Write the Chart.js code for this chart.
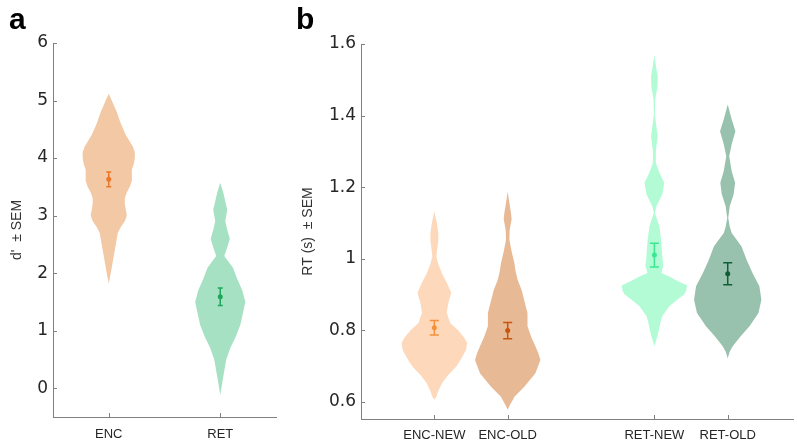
<!DOCTYPE html>
<html>
<head>
<meta charset="utf-8">
<script src="https://cdn.jsdelivr.net/npm/chart.js@4.4.1/dist/chart.umd.min.js"></script>
<style>
  html, body { margin: 0; padding: 0; background: #fff; }
  #wrap { position: relative; width: 797px; height: 446px; overflow: hidden; }
  canvas { position: absolute; top: 0; }
  .tag { position: absolute; font: bold 30px "Liberation Sans", Arial, sans-serif; color: #000; }
</style>
</head>
<body>
<div id="wrap">
  <canvas id="chartA" width="290" height="446" style="left:0"></canvas>
  <canvas id="chartB" width="507" height="446" style="left:290px"></canvas>
  <div class="tag" style="left:9px; top:2px">a</div>
  <div class="tag" style="left:296px; top:2px">b</div>
</div>
<script>
// ---- panel a : d' ----
const catsA = ["ENC", "RET"]
const meansA = [3.63, 1.59]
const semA = [0.13, 0.15]

// violin outline: value along y, half width in x-axis units
const encVals = [1.82, 2.0, 2.2, 2.4, 2.5, 2.6, 2.7, 2.8, 2.9, 3.0, 3.1, 3.2, 3.3, 3.4, 3.5, 3.6, 3.7, 3.8, 3.9, 4.0, 4.1, 4.2, 4.4, 4.6, 4.8, 5.0, 5.12]
const encWidth = [0, 0.018, 0.036, 0.054, 0.063, 0.072, 0.081, 0.108, 0.144, 0.162, 0.153, 0.144, 0.144, 0.162, 0.189, 0.207, 0.207, 0.207, 0.225, 0.234, 0.234, 0.216, 0.153, 0.108, 0.072, 0.027, 0]
const retVals = [-0.12, 0.1, 0.3, 0.5, 0.7, 0.9, 1.1, 1.3, 1.5, 1.7, 1.9, 2.1, 2.3, 2.45, 2.6, 2.75, 2.9, 3.1, 3.25, 3.4, 3.57]
const retWidth = [0, 0.018, 0.036, 0.054, 0.09, 0.14, 0.18, 0.203, 0.225, 0.198, 0.153, 0.113, 0.036, 0.063, 0.086, 0.063, 0.045, 0.063, 0.045, 0.027, 0]
const ticksA = [0, 1, 2, 3, 4, 5, 6]

// ---- panel b : RT ----
const catsB = ["ENC-NEW", "ENC-OLD", "RET-NEW", "RET-OLD"]
const posB = [1, 2, 4, 5]
const meansB = [0.807, 0.799, 1.01, 0.958]
const semB = [0.02, 0.023, 0.033, 0.031]

const encNewVals = [0.606, 0.614, 0.63, 0.653, 0.675, 0.698, 0.72, 0.745, 0.765, 0.78, 0.8, 0.82, 0.849, 0.875, 0.905, 0.93, 0.96, 0.985, 1.006, 1.03, 1.05, 1.072, 1.1, 1.132]
const encNewWidth = [0, 0.027, 0.054, 0.108, 0.189, 0.297, 0.365, 0.432, 0.446, 0.405, 0.324, 0.216, 0.169, 0.189, 0.23, 0.176, 0.101, 0.054, 0.027, 0.041, 0.054, 0.054, 0.034, 0]
const encOldVals = [0.578, 0.59, 0.615, 0.643, 0.68, 0.717, 0.735, 0.755, 0.78, 0.811, 0.848, 0.87, 0.913, 0.941, 0.965, 0.988, 1.02, 1.053, 1.08, 1.11, 1.128, 1.16, 1.188]
const encOldWidth = [0, 0.027, 0.095, 0.23, 0.378, 0.446, 0.419, 0.378, 0.324, 0.27, 0.27, 0.243, 0.189, 0.135, 0.108, 0.091, 0.054, 0.023, 0.027, 0.054, 0.045, 0.02, 0]
const retNewVals = [0.755, 0.783, 0.8, 0.82, 0.84, 0.867, 0.885, 0.9, 0.91, 0.925, 0.94, 0.95, 0.96, 0.98, 1.006, 1.03, 1.053, 1.09, 1.128, 1.146, 1.18, 1.212, 1.24, 1.268, 1.3, 1.342, 1.37, 1.403, 1.445, 1.48, 1.51, 1.54, 1.571]
const retNewWidth = [0, 0.041, 0.061, 0.081, 0.108, 0.203, 0.311, 0.405, 0.432, 0.446, 0.297, 0.203, 0.095, 0.122, 0.108, 0.101, 0.091, 0.068, 0.007, 0.027, 0.108, 0.135, 0.068, 0.02, 0.02, 0.045, 0.027, 0.007, 0.011, 0.041, 0.045, 0.02, 0]
const retOldVals = [0.722, 0.74, 0.755, 0.783, 0.811, 0.848, 0.885, 0.923, 0.96, 0.997, 1.034, 1.053, 1.072, 1.09, 1.114, 1.146, 1.18, 1.212, 1.245, 1.286, 1.32, 1.356, 1.39, 1.431]
const retOldWidth = [0, 0.027, 0.068, 0.176, 0.297, 0.419, 0.459, 0.432, 0.338, 0.257, 0.189, 0.122, 0.054, 0.027, 0.007, 0.027, 0.081, 0.101, 0.054, 0.02, 0.054, 0.105, 0.054, 0]
const ticksB = [0.6, 0.8, 1.0, 1.2, 1.4, 1.6]

const AXIS = "#808080"
const TXT = "#262626"

// draws violins under the points, error bars over them, and inward tick marks
function violinPlugin(violins, errs, capHalf) {
  return {
    id: "violins",
    beforeDatasetsDraw(chart) {
      const { ctx, scales: { x, y } } = chart
      violins.forEach(v => {
        ctx.beginPath()
        v.vals.forEach((val, i) => {
          const px = x.getPixelForValue(v.pos + v.w[i]), py = y.getPixelForValue(val)
          i ? ctx.lineTo(px, py) : ctx.moveTo(px, py)
        })
        for (let i = v.vals.length - 1; i >= 0; i--) {
          ctx.lineTo(x.getPixelForValue(v.pos - v.w[i]), y.getPixelForValue(v.vals[i]))
        }
        ctx.closePath()
        ctx.fillStyle = v.fill
        ctx.fill()
      })
    },
    afterDatasetsDraw(chart) {
      const { ctx, scales: { x, y } } = chart
      ctx.save()
      ctx.lineWidth = 1.5
      errs.forEach(e => {
        const cx = x.getPixelForValue(e.pos)
        const top = y.getPixelForValue(e.mean + e.sem), bot = y.getPixelForValue(e.mean - e.sem)
        ctx.strokeStyle = e.color
        ctx.beginPath()
        ctx.moveTo(cx, top); ctx.lineTo(cx, bot)
        ctx.moveTo(cx - capHalf, top); ctx.lineTo(cx + capHalf, top)
        ctx.moveTo(cx - capHalf, bot); ctx.lineTo(cx + capHalf, bot)
        ctx.stroke()
      })
      ctx.restore()
    },
    afterDraw(chart) {
      const { ctx, chartArea: a, scales: { x, y } } = chart
      ctx.save()
      ctx.strokeStyle = AXIS
      ctx.lineWidth = 1
      ctx.beginPath()
      y.ticks.forEach(t => {
        const py = Math.round(y.getPixelForValue(t.value)) + 0.5
        ctx.moveTo(a.left, py); ctx.lineTo(a.left + 4, py)
      })
      x.ticks.forEach(t => {
        const px = Math.round(x.getPixelForValue(t.value)) + 0.5
        ctx.moveTo(px, a.bottom); ctx.lineTo(px, a.bottom - 4)
      })
      ctx.stroke()
      ctx.restore()
    }
  }
}

function makeChart(id, o) {
  return new Chart(document.getElementById(id), {
    type: "scatter",
    data: {
      datasets: [{
        data: o.pos.map((p, i) => ({ x: p, y: o.means[i] })),
        pointBackgroundColor: o.errColors,
        pointBorderWidth: 0,
        pointRadius: 2.5
      }]
    },
    options: {
      responsive: false,
      animation: false,
      events: [],
      layout: { padding: o.padding },
      plugins: { legend: { display: false }, tooltip: { enabled: false } },
      scales: {
        x: {
          type: "linear", min: o.xMin, max: o.xMax,
          grid: { display: false, drawTicks: false },
          border: { display: true, color: AXIS, width: 1 },
          afterBuildTicks: s => { s.ticks = o.pos.map(v => ({ value: v })) },
          afterFit: s => { s.height = o.xHeight },
          ticks: {
            autoSkip: false, maxRotation: 0, padding: o.xPad, color: TXT,
            font: { family: "Liberation Sans", size: 13 },
            callback: v => o.cats[o.pos.indexOf(v)]
          }
        },
        y: {
          min: o.yMin, max: o.yMax,
          grid: { display: false, drawTicks: false },
          border: { display: true, color: AXIS, width: 1 },
          afterBuildTicks: s => { s.ticks = o.yTicks.map(v => ({ value: v })) },
          afterFit: s => { s.width = o.yWidth },
          ticks: {
            padding: 5, color: TXT,
            font: { family: "DejaVu Sans", size: o.tickSize },
            callback: v => String(Number(v.toFixed(1)))
          },
          title: {
            display: true, text: o.yTitle, color: "#333",
            font: { family: "Liberation Sans", size: 14 },
            padding: { top: o.titleTop, bottom: 0 }
          }
        }
      }
    },
    plugins: [violinPlugin(o.violins, o.pos.map((p, i) => ({ pos: p, mean: o.means[i], sem: o.sem[i], color: o.errColors[i] })), o.cap)]
  })
}

makeChart("chartA", {
  cats: catsA, pos: [1, 2], means: meansA, sem: semA,
  errColors: ["#e8782a", "#1ca75a"],
  violins: [
    { pos: 1, vals: encVals, w: encWidth, fill: "#f3c8a5" },
    { pos: 2, vals: retVals, w: retWidth, fill: "#a7e1c4" }
  ],
  xMin: 0.5, xMax: 2.5, yMin: -0.5, yMax: 6, yTicks: ticksA,
  padding: { left: 0, top: 43, right: 14, bottom: 0 },
  xHeight: 29, yWidth: 53, xPad: 10, tickSize: 17,
  yTitle: "d'  \u00b1 SEM", titleTop: 9, cap: 2.5
})

makeChart("chartB", {
  cats: catsB, pos: posB, means: meansB, sem: semB,
  errColors: ["#f3913c", "#c9540f", "#3ae893", "#0f5e35"],
  violins: [
    { pos: 1, vals: encNewVals, w: encNewWidth, fill: "#fdd8ba" },
    { pos: 2, vals: encOldVals, w: encOldWidth, fill: "#e8b995" },
    { pos: 4, vals: retNewVals, w: retNewWidth, fill: "#b2fbd5" },
    { pos: 5, vals: retOldVals, w: retOldWidth, fill: "#99c2ae" }
  ],
  xMin: 0, xMax: 5.89, yMin: 0.552, yMax: 1.6, yTicks: ticksB,
  padding: { left: 0, top: 44, right: 0, bottom: 0 },
  xHeight: 27, yWidth: 71, xPad: 9, tickSize: 17,
  yTitle: "RT (s)  \u00b1 SEM", titleTop: 10, cap: 4.5
})
</script>
</body>
</html>
